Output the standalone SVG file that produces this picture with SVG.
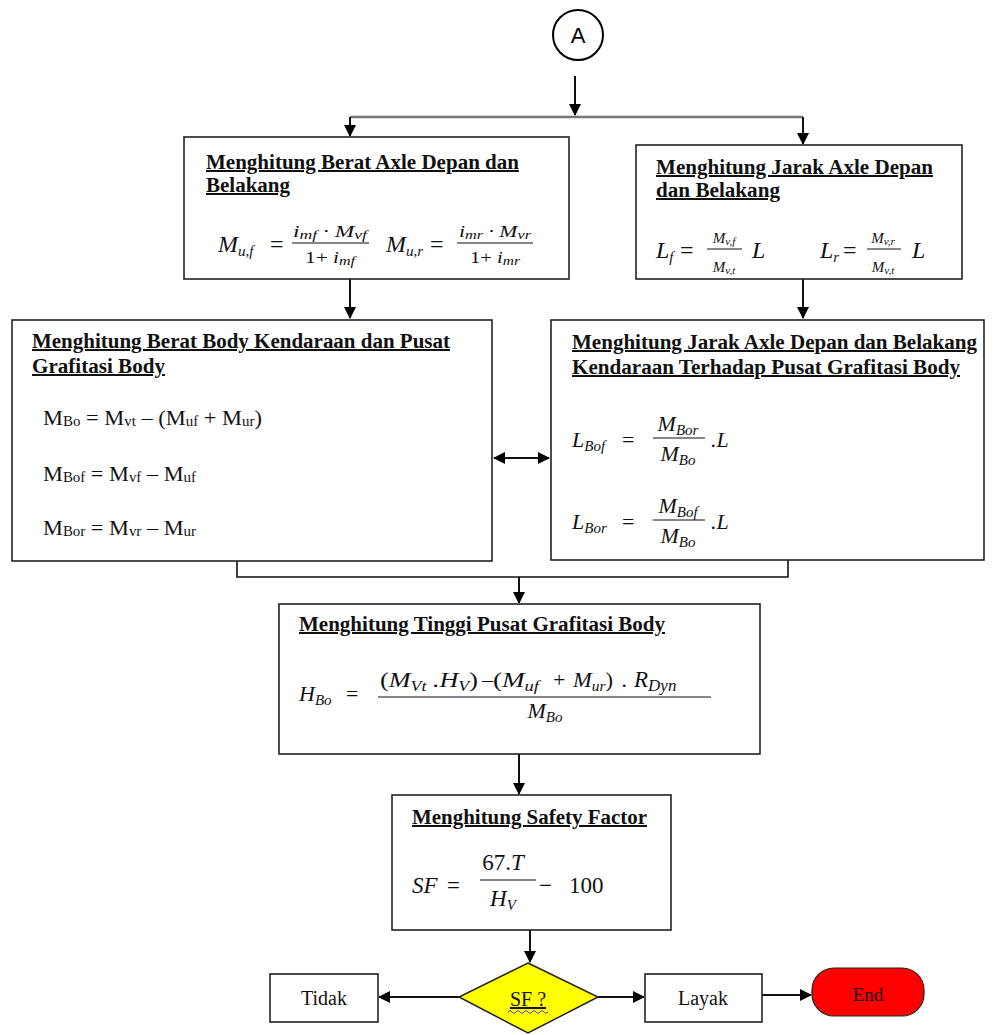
<svg xmlns="http://www.w3.org/2000/svg" width="1001" height="1035" viewBox="0 0 1001 1035">
<style>
.box{fill:#fff;stroke:#222;stroke-width:1.6}
.hd{font-family:"Liberation Serif",serif;font-weight:bold;font-size:20px;text-decoration:underline;fill:#111}
.m{font-family:"Liberation Serif",serif;font-style:italic;fill:#111}
.r{font-family:"Liberation Serif",serif;fill:#111}
.ln{stroke:#111;stroke-width:1.6;fill:none}
.fr{stroke:#111;stroke-width:1.2}
.c{stroke:#111;stroke-width:2;fill:none}
</style>
<defs>
<marker id="ah" viewBox="0 0 12 12" refX="11" refY="6" markerWidth="12" markerHeight="12" markerUnits="userSpaceOnUse" orient="auto-start-reverse">
<path d="M0,0 L12,6 L0,12 Z" fill="#000"/>
</marker>
<clipPath id="clipB2"><rect x="636" y="145" width="326" height="130"/></clipPath>
</defs>

<g id="connectors">
<line class="c" x1="575" y1="76" x2="575" y2="115" marker-end="url(#ah)"/>
<polyline points="350,117 803,117" fill="none" stroke="#777" stroke-width="2.5"/>
<line class="c" x1="350" y1="117" x2="350" y2="136" marker-end="url(#ah)"/>
<line class="c" x1="803" y1="117" x2="803" y2="144" marker-end="url(#ah)"/>
<line class="c" x1="350" y1="279" x2="350" y2="318" marker-end="url(#ah)"/>
<line class="c" x1="803" y1="279" x2="803" y2="318" marker-end="url(#ah)"/>
<line class="c" x1="494" y1="458" x2="549" y2="458" marker-start="url(#ah)" marker-end="url(#ah)"/>
<polyline class="ln" points="237,561 237,577 788,577 788,560"/>
<line class="c" x1="519" y1="577" x2="519" y2="603" marker-end="url(#ah)"/>
<line class="c" x1="519" y1="754" x2="519" y2="794" marker-end="url(#ah)"/>
<line class="c" x1="530" y1="930" x2="530" y2="962" marker-end="url(#ah)"/>
<line class="c" x1="459" y1="997" x2="379" y2="997" marker-end="url(#ah)"/>
<line class="c" x1="598" y1="997" x2="644" y2="997" marker-end="url(#ah)"/>
<line class="c" x1="762" y1="995" x2="811" y2="995" marker-end="url(#ah)"/>
</g>

<g id="nodeA">
<circle cx="578" cy="35" r="25" fill="#fff" stroke="#000" stroke-width="2"/>
<text x="578" y="43" text-anchor="middle" font-family="Liberation Sans,sans-serif" font-size="22" fill="#000">A</text>
</g>

<g id="box1">
<rect class="box" x="184" y="137" width="385" height="142"/>
<text class="hd" x="206" y="169" textLength="313" lengthAdjust="spacingAndGlyphs">Menghitung Berat Axle Depan dan</text>
<text class="hd" x="206" y="192" textLength="84" lengthAdjust="spacingAndGlyphs">Belakang</text>
<text class="m" x="218" y="252" font-size="24">M<tspan font-size="15" dy="4">u,f</tspan></text>
<text class="r" x="270" y="252" font-size="24">=</text>
<text class="m" x="293" y="237" font-size="16" textLength="74" lengthAdjust="spacingAndGlyphs">i<tspan font-size="12" dy="2">mf</tspan><tspan dy="-2"> · M</tspan><tspan font-size="12" dy="2">vf</tspan></text>
<line class="fr" x1="292" y1="243" x2="369" y2="243"/>
<text class="m" x="305" y="263" font-size="16" textLength="50" lengthAdjust="spacingAndGlyphs"><tspan font-style="normal">1+ </tspan>i<tspan font-size="12" dy="2">mf</tspan></text>
<text class="m" x="386" y="252" font-size="24">M<tspan font-size="15" dy="4">u,r</tspan></text>
<text class="r" x="430" y="252" font-size="24">=</text>
<text class="m" x="459" y="237" font-size="16" textLength="72" lengthAdjust="spacingAndGlyphs">i<tspan font-size="12" dy="2">mr</tspan><tspan dy="-2"> · M</tspan><tspan font-size="12" dy="2">vr</tspan></text>
<line class="fr" x1="457" y1="243" x2="533" y2="243"/>
<text class="m" x="470" y="263" font-size="16" textLength="50" lengthAdjust="spacingAndGlyphs"><tspan font-style="normal">1+ </tspan>i<tspan font-size="12" dy="2">mr</tspan></text>
</g>

<g id="box2">
<rect class="box" x="636" y="145" width="326" height="134"/>
<text class="hd" x="656" y="174" textLength="277" lengthAdjust="spacingAndGlyphs">Menghitung Jarak Axle Depan</text>
<text class="hd" x="656" y="197" textLength="124" lengthAdjust="spacingAndGlyphs">dan Belakang</text>
<text class="m" x="656" y="258" font-size="24">L<tspan font-size="15" dy="4">f</tspan></text>
<text class="r" x="680" y="258" font-size="24">=</text>
<text class="m" x="724" y="243" font-size="15" text-anchor="middle">M<tspan font-size="11" dy="2">v,f</tspan></text>
<line class="fr" x1="707" y1="249" x2="742" y2="249"/>
<g clip-path="url(#clipB2)">
<text class="m" x="724" y="272" font-size="15" text-anchor="middle">M<tspan font-size="11" dy="2">v,t</tspan></text>
<text class="m" x="883" y="272" font-size="15" text-anchor="middle">M<tspan font-size="11" dy="2">v,t</tspan></text>
</g>
<text class="m" x="752" y="258" font-size="24">L</text>
<text class="m" x="820" y="258" font-size="24">L<tspan font-size="15" dy="4">r</tspan></text>
<text class="r" x="843" y="258" font-size="24">=</text>
<text class="m" x="883" y="243" font-size="15" text-anchor="middle">M<tspan font-size="11" dy="2">v,r</tspan></text>
<line class="fr" x1="867" y1="249" x2="901" y2="249"/>
<text class="m" x="912" y="258" font-size="24">L</text>
</g>

<g id="box3">
<rect class="box" x="12" y="320" width="480" height="241"/>
<text class="hd" x="32" y="348" textLength="418" lengthAdjust="spacingAndGlyphs">Menghitung Berat Body Kendaraan dan Pusat</text>
<text class="hd" x="32" y="373" textLength="133" lengthAdjust="spacingAndGlyphs">Grafitasi Body</text>
<text class="r" x="43" y="425" font-size="21" textLength="219" lengthAdjust="spacingAndGlyphs">M<tspan font-size="14" dy="1">Bo</tspan><tspan dy="-1"> = M</tspan><tspan font-size="14" dy="1">vt</tspan><tspan dy="-1"> – (M</tspan><tspan font-size="14" dy="1">uf</tspan><tspan dy="-1"> + M</tspan><tspan font-size="14" dy="1">ur</tspan><tspan dy="-1">)</tspan></text>
<text class="r" x="43" y="481" font-size="21" textLength="153" lengthAdjust="spacingAndGlyphs">M<tspan font-size="14" dy="1">Bof</tspan><tspan dy="-1"> = M</tspan><tspan font-size="14" dy="1">vf</tspan><tspan dy="-1"> – M</tspan><tspan font-size="14" dy="1">uf</tspan></text>
<text class="r" x="43" y="535" font-size="21" textLength="153" lengthAdjust="spacingAndGlyphs">M<tspan font-size="14" dy="1">Bor</tspan><tspan dy="-1"> = M</tspan><tspan font-size="14" dy="1">vr</tspan><tspan dy="-1"> – M</tspan><tspan font-size="14" dy="1">ur</tspan></text>
</g>

<g id="box4">
<rect class="box" x="551" y="320" width="433" height="240"/>
<text class="hd" x="572" y="349" textLength="405" lengthAdjust="spacingAndGlyphs">Menghitung Jarak Axle Depan dan Belakang</text>
<text class="hd" x="572" y="374" textLength="388" lengthAdjust="spacingAndGlyphs">Kendaraan Terhadap Pusat Grafitasi Body</text>
<text class="m" x="572" y="447" font-size="22">L<tspan font-size="15" dy="4">Bof</tspan></text>
<text class="r" x="622" y="447" font-size="22">=</text>
<text class="m" x="678" y="431" font-size="22" text-anchor="middle">M<tspan font-size="15" dy="4">Bor</tspan></text>
<line class="fr" x1="653" y1="438" x2="705" y2="438"/>
<text class="m" x="678" y="461" font-size="22" text-anchor="middle">M<tspan font-size="15" dy="4">Bo</tspan></text>
<text class="m" x="711" y="447" font-size="22">.L</text>
<text class="m" x="572" y="529" font-size="22">L<tspan font-size="15" dy="4">Bor</tspan></text>
<text class="r" x="622" y="529" font-size="22">=</text>
<text class="m" x="678" y="513" font-size="22" text-anchor="middle">M<tspan font-size="15" dy="4">Bof</tspan></text>
<line class="fr" x1="653" y1="520" x2="705" y2="520"/>
<text class="m" x="678" y="543" font-size="22" text-anchor="middle">M<tspan font-size="15" dy="4">Bo</tspan></text>
<text class="m" x="711" y="529" font-size="22">.L</text>
</g>

<g id="box5">
<rect class="box" x="279" y="604" width="481" height="150"/>
<text class="hd" x="299" y="631" textLength="366" lengthAdjust="spacingAndGlyphs">Menghitung Tinggi Pusat Grafitasi Body</text>
<text class="m" x="299" y="701" font-size="22">H<tspan font-size="15" dy="4">Bo</tspan></text>
<text class="r" x="346" y="701" font-size="22">=</text>
<text class="m" x="380" y="687" font-size="22" textLength="98" lengthAdjust="spacingAndGlyphs"><tspan font-style="normal">(</tspan>M<tspan font-size="15" dy="4">Vt</tspan><tspan dy="-4"> .H</tspan><tspan font-size="15" dy="4">V</tspan><tspan dy="-4" font-style="normal">)</tspan></text>
<text class="r" x="482" y="687" font-size="22">–</text>
<text class="m" x="493" y="687" font-size="22" textLength="46" lengthAdjust="spacingAndGlyphs"><tspan font-style="normal">(</tspan>M<tspan font-size="15" dy="4">uf</tspan></text>
<text class="r" x="553" y="687" font-size="22">+</text>
<text class="m" x="573" y="687" font-size="22" textLength="40" lengthAdjust="spacingAndGlyphs">M<tspan font-size="15" dy="4">ur</tspan><tspan dy="-4" font-style="normal">)</tspan></text>
<text class="m" x="622" y="687" font-size="22">.</text>
<text class="m" x="634" y="687" font-size="23">R<tspan font-size="17" dy="4">Dyn</tspan></text>
<line class="fr" x1="378" y1="697" x2="711" y2="697"/>
<text class="m" x="545" y="718" font-size="22" text-anchor="middle">M<tspan font-size="15" dy="4">Bo</tspan></text>
</g>

<g id="box6">
<rect class="box" x="392" y="795" width="279" height="135"/>
<text class="hd" x="412" y="824" textLength="235" lengthAdjust="spacingAndGlyphs">Menghitung Safety Factor</text>
<text class="m" x="412" y="893" font-size="23">SF</text>
<text class="r" x="447" y="893" font-size="23">=</text>
<text class="m" x="503" y="870" font-size="23" text-anchor="middle"><tspan font-style="normal">67.</tspan>T</text>
<line class="fr" x1="480" y1="880" x2="536" y2="880"/>
<text class="m" x="503" y="906" font-size="23" text-anchor="middle">H<tspan font-size="15" dy="4">V</tspan></text>
<text class="r" x="539" y="893" font-size="23">−</text>
<text class="r" x="569" y="893" font-size="23">100</text>
</g>

<g id="tidak">
<rect class="box" x="270" y="974" width="108" height="48"/>
<text class="r" x="324" y="1005" font-size="20" text-anchor="middle">Tidak</text>
</g>

<g id="decision">
<polygon points="528,963 598,997 528,1033 459,997" fill="#ffff00" stroke="#222" stroke-width="1.5"/>
<text class="r" x="528" y="1006" font-size="20" text-anchor="middle" text-decoration="underline">SF ?</text>
<path d="M508,1012 q2,-3 4,0 t4,0 t4,0 t4,0 t4,0 t4,0 t4,0 t4,0 t4,0 t4,0" fill="none" stroke="#4040d0" stroke-width="1"/>
</g>

<g id="layak">
<rect class="box" x="645" y="974" width="117" height="48"/>
<text class="r" x="703" y="1005" font-size="20" text-anchor="middle">Layak</text>
</g>

<g id="end">
<rect x="812" y="968" width="112" height="48" rx="22" ry="22" fill="#ff0000" stroke="#222" stroke-width="1.2"/>
<text class="r" x="868" y="1001" font-size="19" text-anchor="middle">End</text>
</g>
</svg>
